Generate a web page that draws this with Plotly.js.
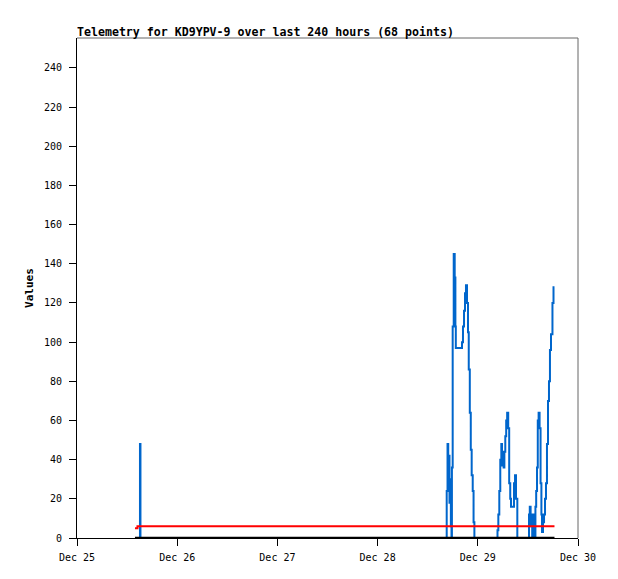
<!DOCTYPE html>
<html>
<head>
<meta charset="utf-8">
<script src="https://cdn.plot.ly/plotly-3.0.1.min.js"></script>
<style>html,body{margin:0;padding:0;background:#fff;}#chart{width:618px;height:579px;}</style>
</head>
<body>
<div id="chart"></div>
<script>
// Blue telemetry channel (step values)
const blueTimes = [
  '2023-12-25 14:58','2023-12-25 15:05','2023-12-25 15:12',
  '2023-12-28 16:33','2023-12-28 16:45','2023-12-28 16:55','2023-12-28 17:03','2023-12-28 17:13',
  '2023-12-28 17:23','2023-12-28 17:33','2023-12-28 17:42','2023-12-28 17:48','2023-12-28 17:59',
  '2023-12-28 18:14','2023-12-28 18:28','2023-12-28 18:38','2023-12-28 18:44','2023-12-28 20:13',
  '2023-12-28 20:27','2023-12-28 20:42','2023-12-28 20:56','2023-12-28 21:10','2023-12-28 21:25',
  '2023-12-28 21:39','2023-12-28 21:50','2023-12-28 22:05','2023-12-28 22:19','2023-12-28 22:32',
  '2023-12-28 22:47','2023-12-28 22:59','2023-12-28 23:11',
  '2023-12-29 04:43','2023-12-29 04:55','2023-12-29 05:09','2023-12-29 05:23','2023-12-29 05:38',
  '2023-12-29 05:48','2023-12-29 05:59','2023-12-29 06:11','2023-12-29 06:22','2023-12-29 06:35',
  '2023-12-29 06:48','2023-12-29 07:02','2023-12-29 07:17','2023-12-29 07:31','2023-12-29 07:46',
  '2023-12-29 07:57','2023-12-29 08:40','2023-12-29 08:55','2023-12-29 09:09','2023-12-29 09:28',
  '2023-12-29 12:16','2023-12-29 12:27','2023-12-29 12:39','2023-12-29 12:50','2023-12-29 13:02',
  '2023-12-29 13:13','2023-12-29 13:25','2023-12-29 13:36','2023-12-29 13:48','2023-12-29 13:59',
  '2023-12-29 14:11','2023-12-29 14:22','2023-12-29 14:34','2023-12-29 14:48','2023-12-29 15:02',
  '2023-12-29 15:14','2023-12-29 15:23','2023-12-29 15:37','2023-12-29 15:52','2023-12-29 16:06',
  '2023-12-29 16:20','2023-12-29 16:34','2023-12-29 16:49','2023-12-29 17:03','2023-12-29 17:17',
  '2023-12-29 17:32','2023-12-29 17:53','2023-12-29 18:08','2023-12-29 18:22'
];
const blueValues = [
  0, 48, 0,
  24, 48, 30, 42, 18,
  30, 6, 0, 36, 108,
  145, 133, 108, 97, 100,
  108, 116, 125, 129, 120,
  105, 86, 64, 45, 32,
  24, 8, 0,
  4, 12, 24, 40, 48,
  37, 44, 36, 44, 52,
  60, 64, 56, 28, 20,
  16, 28, 32, 20, 0,
  12, 16, 6, 12, 0,
  6, 12, 0, 16, 24,
  36, 60, 64, 56, 28,
  12, 3, 8, 12, 20,
  28, 48, 70, 80, 96,
  104, 120, 128, 128
];
// Red telemetry channel
const redTimes = ['2023-12-25 13:53', '2023-12-25 14:29', '2023-12-29 18:22'];
const redValues = [5, 6, 6];
// Black telemetry channel
const blackTimes = ['2023-12-25 13:53', '2023-12-29 18:22'];
const blackValues = [0, 0];

const xTickRange = ['2023-12-25 00:00', '2023-12-30 00:00'];
const titleText = 'Telemetry for KD9YPV-9 over last 240 hours (68 points)';
const yTitle = 'Values';

const mono = 'DejaVu Sans Mono, monospace';

const traces = [
  {x: blueTimes, y: blueValues, type: 'scatter', mode: 'lines',
   line: {color: '#0066cc', width: 2, shape: 'hv'}, hoverinfo: 'skip'},
  {x: redTimes, y: redValues, type: 'scatter', mode: 'lines',
   line: {color: '#ff0000', width: 2, shape: 'hv'}, hoverinfo: 'skip'},
  {x: blackTimes, y: blackValues, type: 'scatter', mode: 'lines',
   line: {color: '#000000', width: 2.5, shape: 'hv'}, hoverinfo: 'skip'}
];

const layout = {
  width: 618, height: 579,
  margin: {l: 77, r: 40, t: 38, b: 41, pad: 0},
  paper_bgcolor: '#ffffff', plot_bgcolor: '#ffffff',
  showlegend: false,
  font: {family: mono, size: 10, color: '#000'},
  title: {text: '<b>' + titleText + '</b>', font: {family: mono, size: 11.6, color: '#000'},
          x: 0, xref: 'paper', xanchor: 'left', y: 1, yref: 'paper', yanchor: 'bottom', pad: {b: 2}},
  xaxis: {type: 'date', range: xTickRange, dtick: 86400000, tick0: '2023-12-25',
          tickformat: '%b %d', showgrid: false, zeroline: false,
          showline: true, linecolor: '#000', linewidth: 1,
          ticks: 'outside', ticklen: 7, tickwidth: 1, tickcolor: '#000', ticklabelstandoff: 3,
          tickfont: {family: mono, size: 10, color: '#000'}, fixedrange: true},
  yaxis: {range: [0, 255.3], dtick: 20, tick0: 0, showgrid: false, zeroline: false,
          showline: true, linecolor: '#000', linewidth: 1,
          ticks: 'outside', ticklen: 7, tickwidth: 1, tickcolor: '#000', ticklabelstandoff: 5,
          tickfont: {family: mono, size: 10, color: '#000'},
          title: {text: '<b>' + yTitle + '</b>', font: {family: mono, size: 11, color: '#000'}, standoff: 8},
          fixedrange: true},
  shapes: [
    {type: 'line', xref: 'paper', yref: 'paper', x0: 0, x1: 1, y0: 1, y1: 1, line: {color: '#666', width: 1}},
    {type: 'line', xref: 'paper', yref: 'paper', x0: 1, x1: 1, y0: 0, y1: 1, line: {color: '#666', width: 1}}
  ]
};

Plotly.newPlot('chart', traces, layout, {staticPlot: true, displayModeBar: false});
</script>
</body>
</html>
